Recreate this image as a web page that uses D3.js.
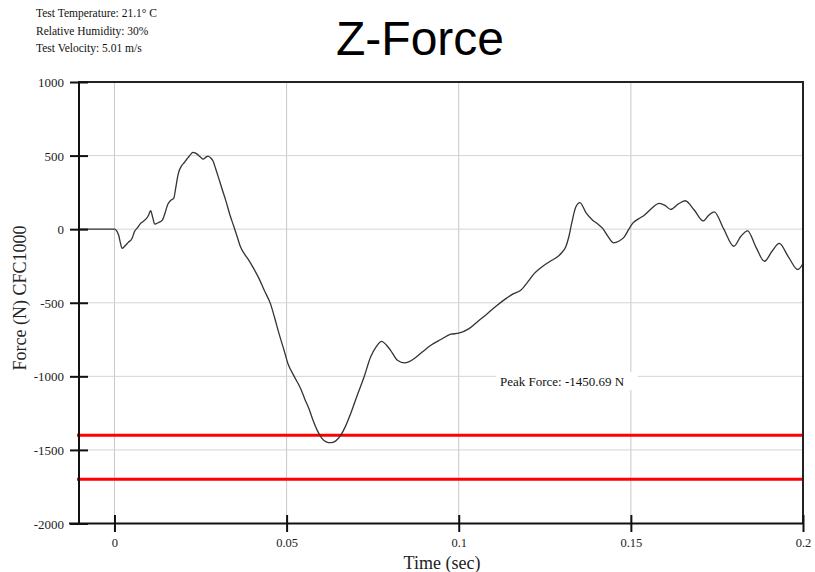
<!DOCTYPE html>
<html><head><meta charset="utf-8">
<script src="https://cdn.jsdelivr.net/npm/d3@7"></script>
<style>body{margin:0;background:#fff}svg{display:block}</style>
</head><body><svg id="c" width="815" height="572"></svg>
<script>
const infoLines = ["Test Temperature: 21.1° C", "Relative Humidity: 30%", "Test Velocity: 5.01 m/s"];
const title = "Z-Force";
const xTicks = [0, 0.05, 0.1, 0.15, 0.2];
const yTicks = [1000, 500, 0, -500, -1000, -1500, -2000];
const limitLines = [-1400, -1700];
const peakLabel = "Peak Force: -1450.69 N";
const timeS = [-0.0103,0.0,0.0006,0.0012,0.0018,0.0022,0.003,0.004,0.0051,0.0058,0.0067,0.0076,0.0085,0.0093,0.0099,0.0105,0.0111,0.0117,0.0128,0.0139,0.0147,0.0155,0.0163,0.0172,0.0178,0.0183,0.0187,0.0195,0.0203,0.021,0.0216,0.0222,0.0228,0.0234,0.024,0.0249,0.0258,0.0265,0.0272,0.0279,0.0286,0.0294,0.0303,0.0313,0.0323,0.0335,0.0347,0.0357,0.0366,0.0378,0.039,0.0405,0.042,0.0436,0.0453,0.0465,0.0478,0.0491,0.0504,0.0522,0.0541,0.0553,0.0565,0.0577,0.0589,0.0602,0.0615,0.0628,0.0642,0.0657,0.0671,0.0686,0.0705,0.0725,0.0744,0.076,0.0776,0.0789,0.0802,0.0822,0.0843,0.0856,0.087,0.0894,0.0919,0.0948,0.0977,0.1,0.103,0.1056,0.1083,0.111,0.1137,0.1158,0.118,0.12,0.1219,0.1234,0.1248,0.1268,0.1287,0.1299,0.1311,0.132,0.1328,0.134,0.1352,0.137,0.1389,0.1404,0.1418,0.1434,0.145,0.1466,0.1481,0.1493,0.1505,0.1522,0.1539,0.156,0.1582,0.16,0.1616,0.1637,0.1658,0.1684,0.171,0.1726,0.1742,0.177,0.1799,0.1819,0.1839,0.1863,0.1888,0.191,0.1931,0.1958,0.1985,0.2];
const forceN = [0,0,-10,-40,-100,-131,-115,-90,-63,-18,10,39,55,73,95,125,80,34,45,61,110,170,195,209,280,350,390,430,453,475,492,510,522,518,510,492,476,488,497,485,465,410,345,270,197,100,16,-55,-120,-170,-211,-270,-336,-420,-506,-600,-710,-810,-914,-1000,-1084,-1155,-1220,-1300,-1367,-1420,-1445,-1451,-1440,-1401,-1340,-1254,-1130,-1005,-869,-800,-762,-785,-823,-891,-909,-900,-880,-835,-789,-750,-714,-707,-676,-625,-574,-520,-472,-440,-415,-360,-302,-270,-245,-215,-188,-160,-120,-50,39,150,181,110,61,35,5,-50,-93,-80,-52,-5,39,70,95,140,175,160,134,170,193,130,56,95,118,0,-116,-50,-12,-120,-218,-150,-97,-190,-274,-233];

const svg = d3.select("#c");
const x = d3.scaleLinear().domain([-0.0103, 0.2]).range([79, 803]);
const y = d3.scaleLinear().domain([-2000, 1000]).range([523.5, 82]);
const serif = "'Liberation Serif','Times New Roman',serif";

svg.append("g").selectAll("text").data(infoLines).join("text")
  .attr("x", 36).attr("y", (d,i)=>17+i*17.5)
  .attr("font-family", serif).attr("font-size", 11.5).attr("fill", "#111").text(d=>d);

svg.append("text").attr("x", 420).attr("y", 55).attr("text-anchor","middle")
  .attr("font-family","'Liberation Sans',Arial,sans-serif").attr("font-size", 48).attr("fill","#000").text(title);

const g = svg.append("g");
g.selectAll("line.vg").data(xTicks).join("line")
  .attr("x1", d=>x(d)).attr("x2", d=>x(d)).attr("y1", 82).attr("y2", 523.5)
  .attr("stroke", "#c8c8c8").attr("stroke-width", 1);
g.selectAll("line.hg").data(yTicks).join("line")
  .attr("x1", 79).attr("x2", 803).attr("y1", d=>y(d)).attr("y2", d=>y(d))
  .attr("stroke", "#d4d4d4").attr("stroke-width", 1);

g.selectAll("line.lim").data(limitLines).join("line")
  .attr("x1", 77).attr("x2", 803).attr("y1", d=>y(d)).attr("y2", d=>y(d))
  .attr("stroke", "#ff0000").attr("stroke-width", 3);

const pts = timeS.map((t,i)=>[t, forceN[i]]);
svg.append("path").datum(pts)
  .attr("d", d3.line().x(d=>x(d[0])).y(d=>y(d[1])).curve(d3.curveMonotoneX))
  .attr("fill","none").attr("stroke","#333").attr("stroke-width",1.3);

const pl = svg.append("g");
pl.append("rect").attr("x", 496).attr("y", 372).attr("width", 142).attr("height", 18).attr("fill","#fff");
pl.append("text").attr("x", 500).attr("y", 386).attr("font-family", serif).attr("font-size", 13).attr("fill","#111").text(peakLabel);

svg.append("line").attr("x1",79).attr("x2",804).attr("y1",82).attr("y2",82).attr("stroke","#222").attr("stroke-width",2);
svg.append("line").attr("x1",803).attr("x2",803).attr("y1",82).attr("y2",524).attr("stroke","#222").attr("stroke-width",2);

const fmt = d => String(d);
const xAxis = d3.axisBottom(x).tickValues(xTicks).tickSize(0).tickFormat(fmt).tickPadding(0);
const ax = svg.append("g").attr("transform","translate(0,523.5)").call(xAxis);
ax.select(".domain").attr("stroke","#111").attr("stroke-width",2).attr("d","M69,0H804");
ax.selectAll(".tick line").attr("y1",-8.5).attr("y2",8.5).attr("stroke","#111").attr("stroke-width",2);
ax.selectAll(".tick text").attr("y",23.5).attr("dy",0).attr("font-family",serif).attr("font-size",12.5).attr("fill","#222");

const yAxis = d3.axisLeft(y).tickValues(yTicks).tickSize(0).tickFormat(fmt).tickPadding(0);
const ay = svg.append("g").attr("transform","translate(79,0)").call(yAxis);
ay.select(".domain").attr("stroke","#111").attr("stroke-width",2).attr("d","M0,81V524");
ay.selectAll(".tick line").attr("x1",-9).attr("x2",9).attr("stroke","#111").attr("stroke-width",2);
ay.selectAll(".tick text").attr("x",-15).attr("dy","0.35em").attr("font-family",serif).attr("font-size",13).attr("fill","#222");

svg.append("text").attr("x",442).attr("y",569).attr("text-anchor","middle")
  .attr("font-family",serif).attr("font-size",18).attr("fill","#222").text("Time (sec)");
svg.append("text").attr("transform","translate(26,298) rotate(-90)").attr("text-anchor","middle")
  .attr("font-family",serif).attr("font-size",18).attr("fill","#222").text("Force (N) CFC1000");
</script></body></html>
